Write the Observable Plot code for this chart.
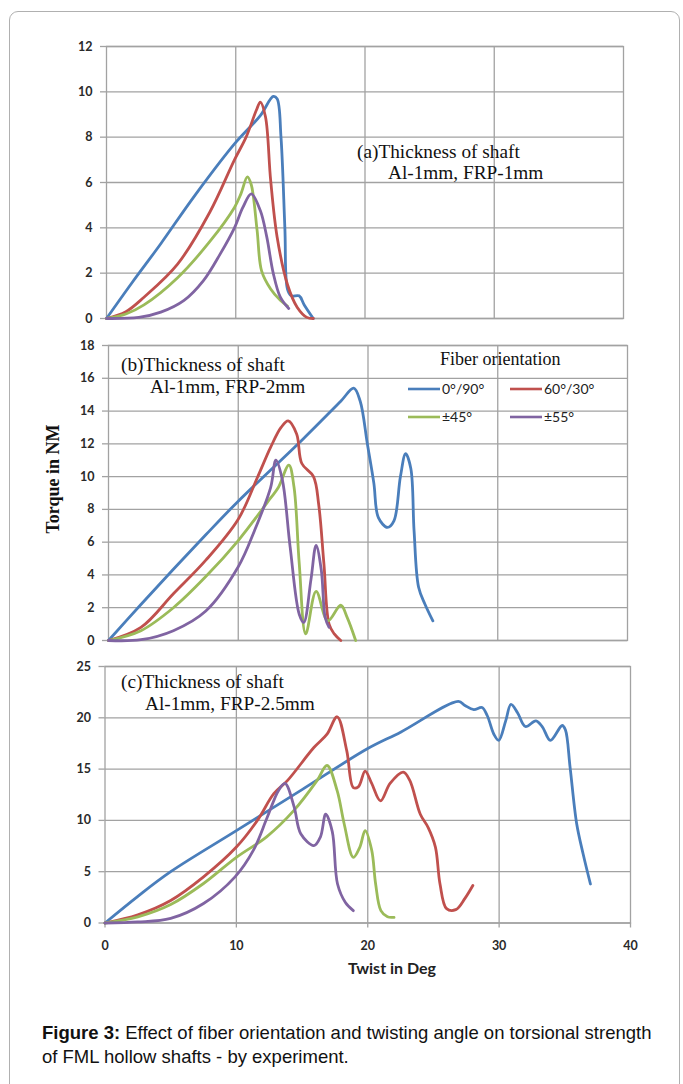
<!DOCTYPE html>
<html>
<head>
<meta charset="utf-8">
<script src="https://cdn.jsdelivr.net/npm/d3@7"></script>
<script src="https://cdn.jsdelivr.net/npm/@observablehq/plot@0.6"></script>
<style>
  html, body { margin: 0; padding: 0; background: #fff; }
  #root { position: relative; width: 683px; height: 1084px; overflow: hidden; }
  #frame { position: absolute; left: 9px; top: 11px; width: 671px; height: 1100px; border: 1px solid #b0b0b0; border-radius: 9px; box-sizing: border-box; }
  .abs { position: absolute; white-space: nowrap; }
  .serif { font-family: "Liberation Serif", "Times New Roman", serif; font-size: 19.3px; color: #111; }
  .serif18 { font-family: "Liberation Serif", "Times New Roman", serif; font-size: 18px; color: #111; }
  .leg { font-family: Lato, sans-serif; font-size: 14px; color: #222; }
  svg.plot { position: absolute; left: 0; }
</style>
</head>
<body>
<div id="root">
  <div id="frame"></div>
</div>
<script>
// ---- data (twist in deg, torque in NM) ----
const seriesNames = ["0°/90°", "60°/30°", "±45°", "±55°"];
const seriesColors = ["#4A7EBB", "#C0504D", "#9BBB59", "#8064A2"];

const xTicks = [0, 10, 20, 30, 40];
const yTicksA = [0, 2, 4, 6, 8, 10, 12];
const yTicksB = [0, 2, 4, 6, 8, 10, 12, 14, 16, 18];
const yTicksC = [0, 5, 10, 15, 20, 25];

// (a) Al-1mm, FRP-1mm
const aBlue = [[0,0],[2,1.6],[4.2,3.3],[6.8,5.4],[9.9,7.7],[11.9,8.95],[12.9,9.8],[13.2,9.7],[13.5,8.0],[13.8,4.0],[14.0,1.3],[14.3,1.0],[14.9,1.0],[15.3,0.6],[16.0,0]];
const aRed = [[0,0],[1.5,0.3],[2.9,0.94],[5.5,2.4],[8.0,4.7],[9.9,7.0],[10.8,8.0],[11.6,9.2],[11.9,9.55],[12.3,8.9],[12.7,6.1],[13.2,3.6],[14.0,1.5],[14.75,0.5],[15.5,0.05],[16,0]];
const aGreen = [[0,0],[1.5,0.2],[2.9,0.6],[5.5,1.8],[8.0,3.4],[9.9,4.9],[10.4,5.5],[10.9,6.25],[11.2,5.9],[11.65,3.9],[12.0,2.1],[12.7,1.3],[13.45,0.8],[14.0,0.55]];
const aPurple = [[0,0],[2.5,0.05],[4.2,0.28],[6.0,0.8],[7.5,1.67],[8.8,2.85],[9.9,4.0],[10.55,4.9],[11.2,5.5],[11.9,4.76],[12.4,3.6],[12.9,2.0],[13.45,0.94],[14.1,0.44]];

// (b) Al-1mm, FRP-2mm
const bBlue = [[0,0],[2.5,2.2],[5,4.35],[7.5,6.45],[10,8.5],[15,12.3],[17.9,14.6],[18.9,15.4],[19.4,14.6],[19.95,12.0],[20.45,9.6],[20.8,7.5],[21.5,6.9],[22.0,7.3],[22.5,10.0],[22.9,11.4],[23.3,10.5],[23.55,6.7],[23.9,3.25],[24.4,2.2],[25.0,1.2]];
const bRed = [[0,0],[2.5,0.8],[5,2.85],[7.5,4.9],[10,7.4],[11.45,9.9],[12.5,11.8],[13.3,13.0],[13.85,13.4],[14.5,12.6],[14.9,10.8],[15.8,10.0],[16.2,8.3],[16.6,4.7],[17.0,1.0],[17.4,0.4],[17.9,0]];
const bGreen = [[0,0],[2.5,0.6],[5,2.0],[7.5,3.9],[10,6.1],[12.5,8.7],[13.1,9.35],[13.9,10.7],[14.3,9.35],[14.7,4.7],[15.2,0.4],[16.0,3.0],[16.9,1.2],[17.9,2.15],[18.4,1.4],[19.05,0]];
const bPurple = [[0,0],[2.5,0.05],[5,0.6],[7.5,1.8],[10,4.5],[11.25,6.7],[12.5,9.35],[12.9,11.0],[13.4,9.8],[14.0,5.7],[14.7,1.6],[15.05,1.1],[15.6,3.7],[16.0,5.8],[16.4,4.3],[16.7,1.4],[17.0,0.8]];

// (c) Al-1mm, FRP-2.5mm
const cBlue = [[0,0],[2.5,2.6],[5,5.0],[10,9.0],[15,13.0],[20,17.0],[22.5,18.6],[26.9,21.6],[27.4,21.2],[28.07,20.8],[28.7,21.0],[29.1,20.2],[29.6,18.4],[29.97,17.8],[30.5,19.7],[30.9,21.3],[31.4,20.5],[32.0,19.15],[32.8,19.7],[33.3,19.1],[33.9,17.8],[34.8,19.25],[35.05,18.8],[35.4,15.2],[35.9,9.7],[36.4,6.7],[36.95,3.8]];
const cRed = [[0,0],[2.5,0.8],[5,2.2],[7.5,4.5],[10,7.4],[11.6,10.0],[12.85,12.6],[13.9,13.9],[15.9,17.1],[16.9,18.4],[17.67,20.1],[18.4,16.8],[18.9,13.2],[19.3,13.3],[19.8,14.8],[20.3,13.6],[20.97,11.9],[21.7,13.6],[22.7,14.7],[23.2,13.9],[24.0,10.6],[24.6,9.3],[25.15,7.4],[25.5,3.8],[26.0,1.4],[26.7,1.3],[27.4,2.4],[28.0,3.65]];
const cGreen = [[0,0],[2.5,0.6],[5,1.8],[7.5,3.85],[10,6.4],[12.3,8.4],[14.4,11.0],[16.15,13.9],[16.9,15.35],[17.67,12.9],[18.2,9.7],[18.9,6.4],[19.4,7.4],[19.8,9.0],[20.3,7.1],[20.6,3.8],[21.0,1.2],[21.5,0.6],[22.0,0.55]];
const cPurple = [[0,0],[2.5,0.1],[5,0.45],[7.5,1.9],[9.9,4.5],[11.3,7.1],[12.35,10.3],[13.2,12.9],[13.7,13.6],[14.4,11.3],[14.9,8.7],[15.9,7.55],[16.4,8.4],[16.8,10.6],[17.3,8.9],[17.7,3.8],[18.3,2.0],[18.9,1.2]];

function toRows(seriesList) {
  const rows = [];
  seriesList.forEach((pts, i) => pts.forEach(([x, y]) => rows.push({x, y, s: seriesNames[i]})));
  return rows;
}

const GRID = "#a2a2a2";

function panel({series, yMax, yTicks, height, mt, mb, ml, mr, showX}) {
  const marks = [
    Plot.gridY(yTicks, {stroke: GRID, strokeOpacity: 1, strokeWidth: 1.3}),
    Plot.gridX([10, 20, 30], {stroke: GRID, strokeOpacity: 1, strokeWidth: 1.3}),
    Plot.frame({stroke: GRID, strokeWidth: 1.3}),
    Plot.axisY(yTicks, {tickSize: 6, tickPadding: 8, stroke: GRID, fill: "#2a2a2a", strokeWidth: 1.3, label: null}),
    Plot.line(toRows(series), {x: "x", y: "y", z: "s", stroke: "s", curve: "catmull-rom", strokeWidth: 2.8, strokeLinejoin: "round", strokeLinecap: "round"})
  ];
  if (showX) marks.splice(4, 0, Plot.axisX(xTicks, {tickSize: 5, tickPadding: 13, stroke: GRID, fill: "#2a2a2a", strokeWidth: 1.3, label: null}));
  return Plot.plot({
    width: 683, height,
    marginTop: mt, marginBottom: mb, marginLeft: ml, marginRight: mr,
    style: {fontFamily: "Lato, sans-serif", fontSize: "12.5px", fontWeight: "bold", background: "transparent", overflow: "visible"},
    x: {domain: [0, 40], label: null, axis: showX ? undefined : null},
    y: {domain: [0, yMax], label: null},
    color: {domain: seriesNames, range: seriesColors},
    marks
  });
}

const root = document.getElementById("root");

const pa = panel({series: [aBlue, aRed, aGreen, aPurple], yMax: 12, yTicks: yTicksA, height: 330, mt: 46, mb: 12, ml: 106, mr: 60, showX: false});
pa.style.top = "0px";
const pb = panel({series: [bBlue, bRed, bGreen, bPurple], yMax: 18, yTicks: yTicksB, height: 320, mt: 15, mb: 10, ml: 108, mr: 56, showX: false});
pb.style.top = "330px";
const pc = panel({series: [cBlue, cRed, cGreen, cPurple], yMax: 25, yTicks: yTicksC, height: 330, mt: 16, mb: 57.5, ml: 104.5, mr: 53, showX: true});
pc.style.top = "650px";
[pa, pb, pc].forEach(p => { p.classList.add("plot"); root.appendChild(p); });

function addText(txt, left, baseline, cls, extra) {
  const d = document.createElement("div");
  d.className = "abs " + cls;
  d.textContent = txt;
  d.style.left = left + "px";
  d.style.top = (baseline - 15) + "px";
  d.style.lineHeight = "18px";
  if (extra) Object.assign(d.style, extra);
  root.appendChild(d);
  return d;
}

// panel annotations
addText("(a)Thickness of shaft", 357, 158, "serif");
addText("Al-1mm, FRP-1mm", 388, 179, "serif");
addText("(b)Thickness of shaft", 121, 371, "serif");
addText("Al-1mm, FRP-2mm", 150, 393, "serif");
addText("(c)Thickness of shaft", 121, 688, "serif");
addText("Al-1mm, FRP-2.5mm", 145, 710, "serif");

// legend (inside panel b)
addText("Fiber orientation", 440, 365, "serif18");
const legendItems = [
  {name: seriesNames[0], color: seriesColors[0], x: 408, y: 389},
  {name: seriesNames[1], color: seriesColors[1], x: 510, y: 389},
  {name: seriesNames[2], color: seriesColors[2], x: 408, y: 417},
  {name: seriesNames[3], color: seriesColors[3], x: 510, y: 417}
];
legendItems.forEach(it => {
  const sw = document.createElementNS("http://www.w3.org/2000/svg", "svg");
  sw.setAttribute("width", "32"); sw.setAttribute("height", "6");
  sw.style.position = "absolute"; sw.style.left = it.x + "px"; sw.style.top = (it.y - 3) + "px";
  const ln = document.createElementNS("http://www.w3.org/2000/svg", "line");
  ln.setAttribute("x1", 0); ln.setAttribute("x2", 32); ln.setAttribute("y1", 3); ln.setAttribute("y2", 3);
  ln.setAttribute("stroke", it.color); ln.setAttribute("stroke-width", 2.6);
  sw.appendChild(ln); root.appendChild(sw);
  addText(it.name, it.x + 34, it.y + 6, "leg");
});

// axis titles
const yt = document.createElement("div");
yt.className = "abs";
yt.textContent = "Torque in NM";
Object.assign(yt.style, {fontFamily: '"Liberation Serif", serif', fontWeight: "bold", fontSize: "18px", color: "#111",
  left: "53px", top: "479px", transform: "translate(-50%, -50%) rotate(-90deg)", lineHeight: "18px"});
root.appendChild(yt);

const xt = document.createElement("div");
xt.className = "abs";
xt.textContent = "Twist in Deg";
Object.assign(xt.style, {fontFamily: "Lato, sans-serif", fontWeight: "bold", fontSize: "16px", color: "#222",
  left: "392px", top: "968px", transform: "translate(-50%, -50%)", lineHeight: "18px"});
root.appendChild(xt);

// caption
const cap = document.createElement("div");
cap.className = "abs";
Object.assign(cap.style, {left: "42px", top: "1021px", fontFamily: '"Liberation Sans", Arial, sans-serif', fontSize: "18.5px", lineHeight: "24px", color: "#111", whiteSpace: "nowrap"});
cap.innerHTML = "<b>Figure 3:</b> Effect of fiber orientation and twisting angle on torsional strength<br>of FML hollow shafts - by experiment.";
root.appendChild(cap);
</script>
</body>
</html>
